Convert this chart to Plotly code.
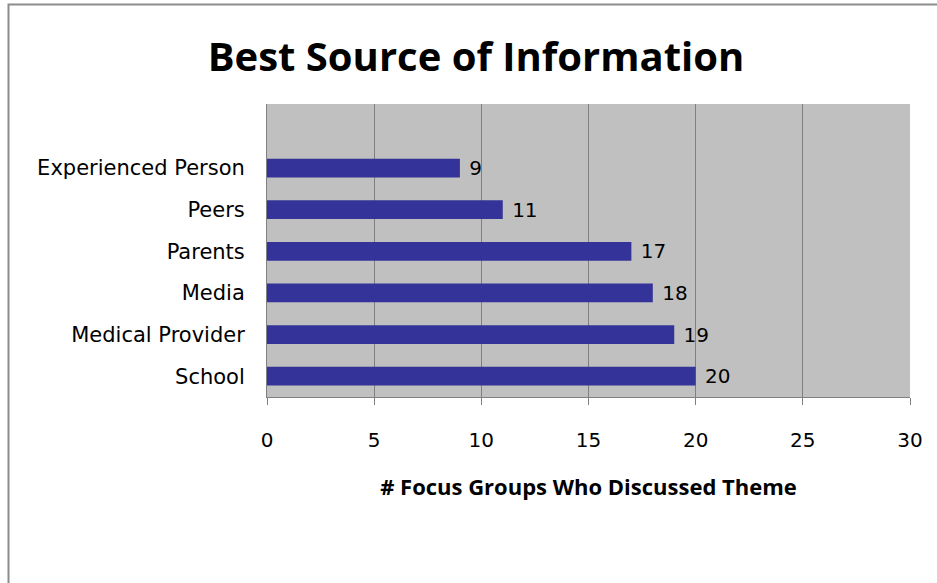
import plotly.graph_objects as go

categories = ["School", "Medical Provider", "Media", "Parents", "Peers", "Experienced Person"]
values = [20, 19, 18, 17, 11, 9]
x_ticks = [0, 5, 10, 15, 20, 25, 30]

FONT = "DejaVu Sans, Open Sans, sans-serif"
BFONT = "Open Sans, Noto Sans, sans-serif"

fig = go.Figure(go.Bar(
    y=categories, x=values, orientation="h",
    marker=dict(color="#333399", line=dict(width=0)),
    width=0.45,
    text=[" " + str(v) for v in values], textposition="outside",
    constraintext="none",
    textfont=dict(family=FONT, size=20, color="#000000"),
    cliponaxis=False,
))

fig.update_layout(
    width=937, height=583,
    margin=dict(l=267, r=27, t=104, b=186),
    paper_bgcolor="white", plot_bgcolor="#C0C0C0",
    showlegend=False,
    title=dict(text="<b>Best Source of Information</b>", x=0.508, xanchor="center",
               y=0.902, yanchor="middle", yref="container",
               font=dict(family=BFONT, size=40, color="#000000")),
    font=dict(family=FONT, color="#000000"),
)

fig.update_xaxes(
    range=[0, 30], tickvals=x_ticks, ticktext=[str(t) for t in x_ticks],
    showgrid=True, gridcolor="#808080", gridwidth=1,
    showline=True, linecolor="#808080", linewidth=1,
    ticks="outside", ticklen=7, tickcolor="#808080",
    tickfont=dict(family=FONT, size=20, color="#000000"),
    ticklabelstandoff=18,
    zeroline=False,
    title=dict(text="<b># Focus Groups Who Discussed Theme</b>",
               font=dict(family=BFONT, size=22, color="#000000"), standoff=28),
)
fig.update_yaxes(
    categoryorder="array", categoryarray=categories,
    range=[-0.5, 6.54],
    showgrid=False, showline=True, linecolor="#808080", linewidth=1,
    ticks="", ticklabelstandoff=17,
    tickfont=dict(family=FONT, size=21, color="#000000"),
)

# outer chart border (extends beyond right and bottom edges)
fig.add_shape(type="rect", xref="paper", yref="paper",
              x0=(8.5 - 267) / 643, x1=(960 - 267) / 643,
              y0=(397 - 600) / 293, y1=(397 - 4.5) / 293,
              line=dict(color="#8c8c8c", width=2), fillcolor="rgba(0,0,0,0)", layer="below")

fig.write_html("out.html", config={"displayModeBar": False},
               post_script="document.body.style.margin='0px';document.body.style.padding='0px';")
